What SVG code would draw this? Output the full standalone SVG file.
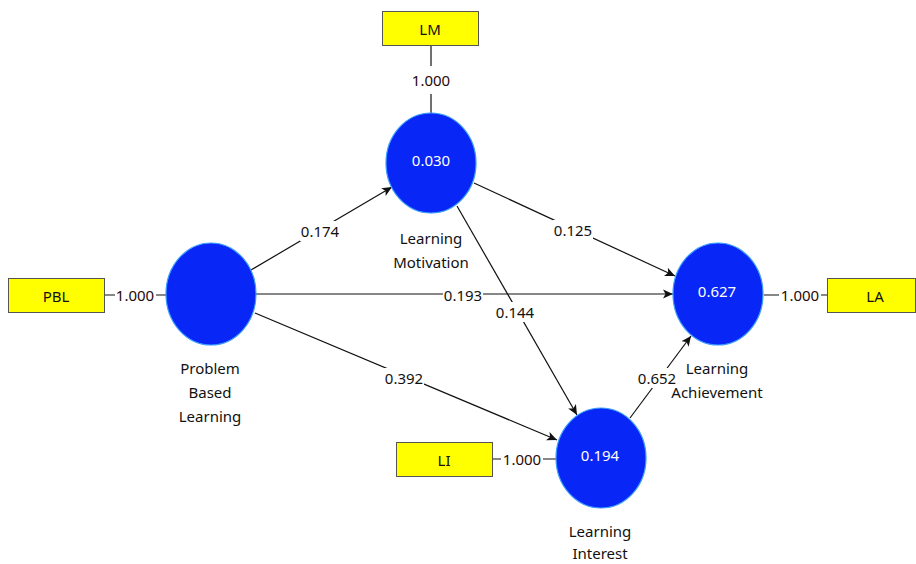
<svg xmlns="http://www.w3.org/2000/svg" width="916" height="564" viewBox="0 0 916 564">
<style>
.lv{fill:#0826f6;stroke:#3a9cff;stroke-width:1.2}
.ind{fill:#ffff00;stroke:#555;stroke-width:1}
.t{font-family:"Noto Sans","Open Sans",sans-serif;font-size:15px;fill:#111;text-anchor:middle;dominant-baseline:central}
.w{fill:#fff}
.ld{fill:#2a0808}
.e{stroke:#111;stroke-width:1.2;fill:none}
.a{marker-end:url(#ah)}
.bg{fill:#fff}
</style>
<defs>
<marker id="ah" viewBox="0 0 10 10" refX="10" refY="5" markerWidth="10" markerHeight="10" markerUnits="userSpaceOnUse" orient="auto">
<path d="M0,0.5 L10,5 L0,9.5 L2.5,5 Z" fill="#111"/>
</marker>
</defs>
<rect width="916" height="564" fill="#fff"/>
<g id="connectors">
<line class="e a" x1="251" y1="270" x2="392" y2="187"/>
<line class="e a" x1="256" y1="294" x2="673" y2="294"/>
<line class="e a" x1="255" y1="313" x2="557" y2="440"/>
<line class="e a" x1="474" y1="183" x2="675" y2="276"/>
<line class="e a" x1="457" y1="206" x2="577" y2="415"/>
<line class="e a" x1="630" y1="418" x2="691" y2="336"/>
<line class="e" x1="104" y1="295" x2="166" y2="295"/>
<line class="e" x1="764" y1="295" x2="827" y2="295"/>
<line class="e" x1="492" y1="459" x2="556" y2="459"/>
<line class="e" x1="431" y1="45" x2="431" y2="113"/>
<rect class="bg" x="300" y="221" width="40" height="20"/>
<text class="t" x="320" y="231">0.174</text>
<rect class="bg" x="443" y="285" width="40" height="20"/>
<text class="t" x="463" y="295">0.193</text>
<rect class="bg" x="384" y="368" width="40" height="20"/>
<text class="t" x="404" y="378">0.392</text>
<rect class="bg" x="553" y="220" width="40" height="20"/>
<text class="t" x="573" y="230">0.125</text>
<rect class="bg" x="495" y="302" width="40" height="20"/>
<text class="t" x="515" y="312">0.144</text>
<rect class="bg" x="638" y="368" width="38" height="20"/>
<text class="t" x="657" y="378">0.652</text>
<rect class="bg" x="115" y="285" width="41" height="20"/>
<text class="t ld" x="135" y="295">1.000</text>
<rect class="bg" x="779" y="285" width="42" height="20"/>
<text class="t ld" x="800" y="295">1.000</text>
<rect class="bg" x="501" y="449" width="42" height="20"/>
<text class="t ld" x="522" y="459">1.000</text>
<rect class="bg" x="410" y="66" width="42" height="28"/>
<text class="t ld" x="431" y="80">1.000</text>
</g>
<g id="PBL">
<rect class="ind" x="8.5" y="278.5" width="96" height="34"/>
<text class="t" x="56" y="296">PBL</text>
</g>
<g id="LM">
<rect class="ind" x="382.5" y="11.5" width="96" height="34"/>
<text class="t" x="430" y="29">LM</text>
</g>
<g id="LI">
<rect class="ind" x="396.5" y="442.5" width="96" height="34"/>
<text class="t" x="444" y="460">LI</text>
</g>
<g id="LA">
<rect class="ind" x="827.5" y="278.5" width="88" height="34"/>
<text class="t" x="875" y="296">LA</text>
</g>
<g id="ProblemBasedLearning">
<ellipse class="lv" cx="211" cy="294" rx="45" ry="51"/>
<text class="t" x="210" y="368">Problem</text>
<text class="t" x="210" y="392">Based</text>
<text class="t" x="210" y="416">Learning</text>
</g>
<g id="LearningMotivation">
<ellipse class="lv" cx="431" cy="163" rx="45" ry="50"/>
<text class="t w" x="431" y="160">0.030</text>
<text class="t" x="431" y="238">Learning</text>
<text class="t" x="431" y="262">Motivation</text>
</g>
<g id="LearningAchievement">
<ellipse class="lv" cx="718" cy="294" rx="45" ry="51"/>
<text class="t w" x="717" y="291">0.627</text>
<text class="t" x="717" y="368">Learning</text>
<text class="t" x="717" y="392">Achievement</text>
</g>
<g id="LearningInterest">
<ellipse class="lv" cx="601" cy="458" rx="45" ry="50"/>
<text class="t w" x="600" y="455">0.194</text>
<text class="t" x="600" y="531">Learning</text>
<text class="t" x="600" y="553">Interest</text>
</g>
</svg>
